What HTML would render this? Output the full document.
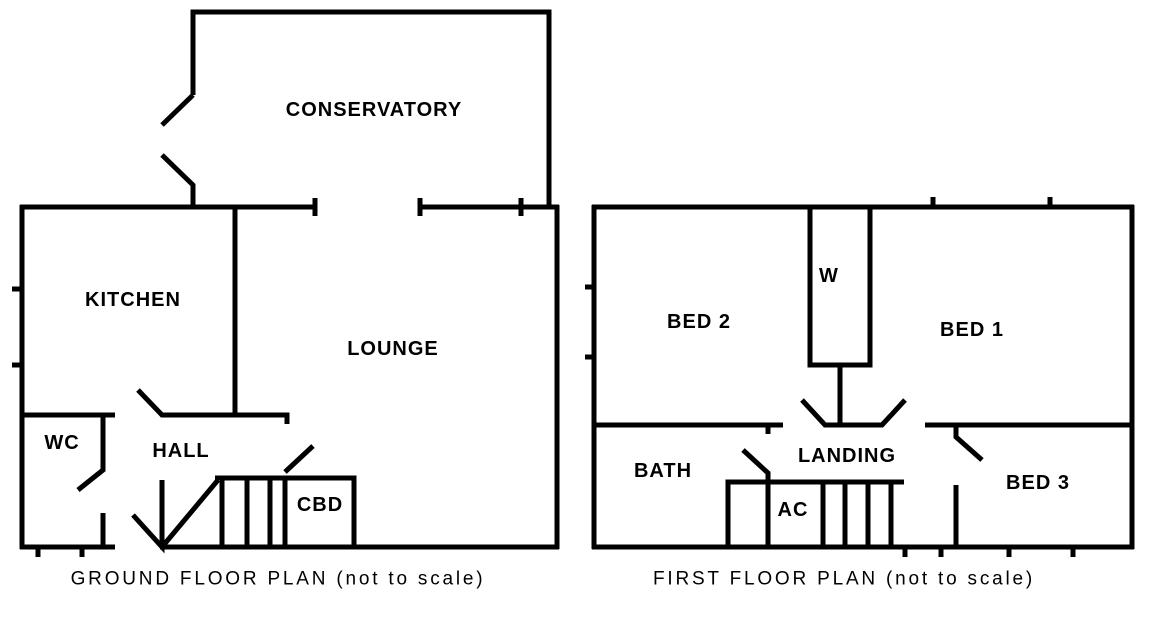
<!DOCTYPE html>
<html><head><style>body{margin:0;background:#fff}svg{display:block}text{font-family:"Liberation Sans",sans-serif;font-size:20px;font-weight:bold;letter-spacing:1px;fill:#000;text-anchor:middle;dominant-baseline:central}text.c{font-size:19px;font-weight:normal;letter-spacing:2.8px}</style></head><body>
<svg width="1153" height="619" viewBox="0 0 1153 619">
<g stroke="#000" stroke-width="5" fill="none" stroke-linecap="butt">
<path d="M193 95V12H549V207"/>
<path d="M193 95L162 125M162 155L193 185V207"/>
<path d="M20 207H315M315 198V216M420 198V216M420 207H559M521 198V216"/>
<path d="M22 205V549M557 205V549"/>
<path d="M20 547H115M160 547H559"/>
<path d="M12 289H22M12 365H22M38 547V557M82 547V557"/>
<path d="M235 207V415M138 390L162 415H287V424"/>
<path d="M22 415H115M103 415V470L78 490M103 513V547"/>
<path d="M133 515L162 547V480M162 547L218 480"/>
<path d="M215 478H354V547M222 478V547M247 478V547M270 478V547M285 478V547M285 472L313 446"/>
<path d="M592 207H1134M594 205V549M1132 205V549M592 547H1134"/>
<path d="M585 287H594M585 357H594M933 197V207M1050 197V207M905 547V557M941 547V557M1009 547V557M1073 547V557"/>
<path d="M810 207V365H870V207M840 365V425"/>
<path d="M594 425H783M768 425V434M802 400L825 425H882L905 400M925 425H1132"/>
<path d="M956 425V437L982 460M956 485V547"/>
<path d="M743 450L768 473V547"/>
<path d="M728 547V482H904M823 482V547M845 482V547M868 482V547M891 482V547"/>
</g>
<text x="374" y="110">CONSERVATORY</text>
<text x="133" y="300">KITCHEN</text>
<text x="393" y="349">LOUNGE</text>
<text x="62" y="443">WC</text>
<text x="181" y="451">HALL</text>
<text x="320" y="505">CBD</text>
<text class="c" x="278" y="579">GROUND FLOOR PLAN (not to scale)</text>
<text x="699" y="322">BED 2</text>
<text x="829" y="276">W</text>
<text x="972" y="330">BED 1</text>
<text x="663" y="471">BATH</text>
<text x="847" y="456">LANDING</text>
<text x="793" y="510">AC</text>
<text x="1038" y="483">BED 3</text>
<text class="c" x="844" y="579">FIRST FLOOR PLAN (not to scale)</text>
</svg>
</body></html>
